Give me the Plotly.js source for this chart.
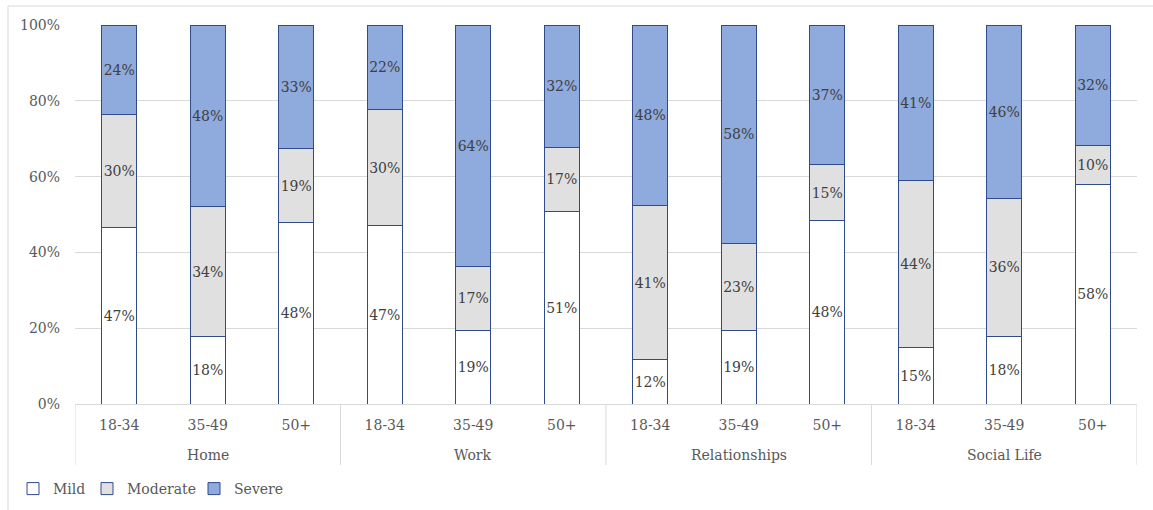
<!DOCTYPE html>
<html>
<head>
<meta charset="utf-8">
<script src="https://cdn.plot.ly/plotly-3.0.1.min.js"></script>
<style>
html,body{margin:0;padding:0;background:#fff;}
#chart{width:1153px;height:510px;}
</style>
</head>
<body>
<div id="chart"></div>
<script>
const groupNames = ["Home","Work","Relationships","Social Life"];
const groups = ["Home","Home","Home","Work","Work","Work","Relationships","Relationships","Relationships","Social Life","Social Life","Social Life"];
const ages = ["18-34","35-49","50+","18-34","35-49","50+","18-34","35-49","50+","18-34","35-49","50+"];
const mild =     [46.7, 17.9, 48.0, 47.2, 19.4, 50.9, 11.7, 19.3, 48.3, 15.0, 17.9, 58.0];
const moderate = [29.6, 34.1, 19.3, 30.4, 17.0, 16.9, 40.6, 23.1, 14.8, 44.1, 36.3, 10.1];
const severe =   [23.7, 48.0, 32.7, 22.4, 63.6, 32.2, 47.7, 57.6, 36.9, 40.9, 45.8, 31.9];
const yTicks = [0,20,40,60,80,100];
const seriesNames = ["Mild","Moderate","Severe"];
const seriesColors = ["#FFFFFF","#E0E0E0","#8FAADC"];

const FONT = "DejaVu Serif";
const FS = 14;
const pos = ages.map((_,i)=>i);
const values = [mild, moderate, severe];
const legendIds = ['legend','legend2','legend3'];
const traces = values.map((v,i)=>({
  type:'bar',
  name: seriesNames[i],
  legend: legendIds[i],
  x:pos,
  y:v,
  marker:{color:seriesColors[i], line:{color:'#2F4B8C', width:1}},
  width:0.4,
  text:v.map(d=>Math.round(d)+'%'),
  texttemplate:'%{text}',
  textposition:'inside',
  insidetextanchor:'middle',
  textangle:0,
  constraintext:'none',
  textfont:{family:FONT, size:FS, color:'#404040'},
  hoverinfo:'skip'
}));

const L=75, R=16, T=25, B=106, W=1153, H=510;
const pw = W-L-R, ph = H-T-B;
const px = x => (x-L)/pw;
const py = y => (H-B-y)/ph;

const annotations = groupNames.map(g=>{
  const idx = pos.filter(i=>groups[i]===g);
  const c = idx.reduce((a,b)=>a+b,0)/idx.length;
  return {x:c, xref:'x', y:py(455), yref:'paper', text:g, showarrow:false,
          xanchor:'center', yanchor:'middle',
          font:{family:FONT, size:FS, color:'#595959'}};
});
const bounds = [-0.5];
groupNames.forEach(g=>{ const idx = pos.filter(i=>groups[i]===g); bounds.push(Math.max(...idx)+0.5); });
const shapes = bounds.map(b=>({type:'line', xref:'x', yref:'paper', x0:b, x1:b, y0:0, y1:py(465),
  line:{color:'#D9D9D9', width:1}}));
shapes.push({type:'line', xref:'paper', yref:'paper', x0:px(8), x1:px(8), y0:py(510), y1:py(6), line:{color:'#D9D9D9', width:1}});
shapes.push({type:'line', xref:'paper', yref:'paper', x0:px(8), x1:px(1153), y0:py(6), y1:py(6), line:{color:'#D9D9D9', width:1}});

const legBase = {orientation:'h', yanchor:'middle', y:py(489), xanchor:'left',
  font:{family:FONT, size:FS, color:'#595959'}, bgcolor:'rgba(0,0,0,0)', borderwidth:0};

const layout = {
  width:W, height:H,
  margin:{l:L, r:R, t:T, b:B, pad:0, autoexpand:false},
  paper_bgcolor:'#fff', plot_bgcolor:'#fff',
  barmode:'stack',
  font:{family:FONT, size:FS, color:'#595959'},
  xaxis:{
    range:[-0.5, 11.5],
    tickvals:pos, ticktext:ages,
    showgrid:false, zeroline:false,
    showline:true, linecolor:'#D9D9D9', linewidth:1,
    tickfont:{family:FONT, size:FS, color:'#595959'},
    ticks:'',
    ticklabelstandoff:8,
    fixedrange:true
  },
  yaxis:{
    range:[0,100],
    tickvals:yTicks,
    ticktext:yTicks.map(t=>t+'%'),
    showgrid:true, gridcolor:'#D9D9D9', gridwidth:1,
    zeroline:false, showline:false,
    tickfont:{family:FONT, size:FS, color:'#595959'},
    ticklabelstandoff:14,
    fixedrange:true
  },
  showlegend:true,
  legend:Object.assign({}, legBase, {x:px(13)}),
  legend2:Object.assign({}, legBase, {x:px(87)}),
  legend3:Object.assign({}, legBase, {x:px(194)}),
  annotations:annotations,
  shapes:shapes
};

Plotly.newPlot('chart', traces, layout, {displayModeBar:false, staticPlot:true});
</script>
</body>
</html>
